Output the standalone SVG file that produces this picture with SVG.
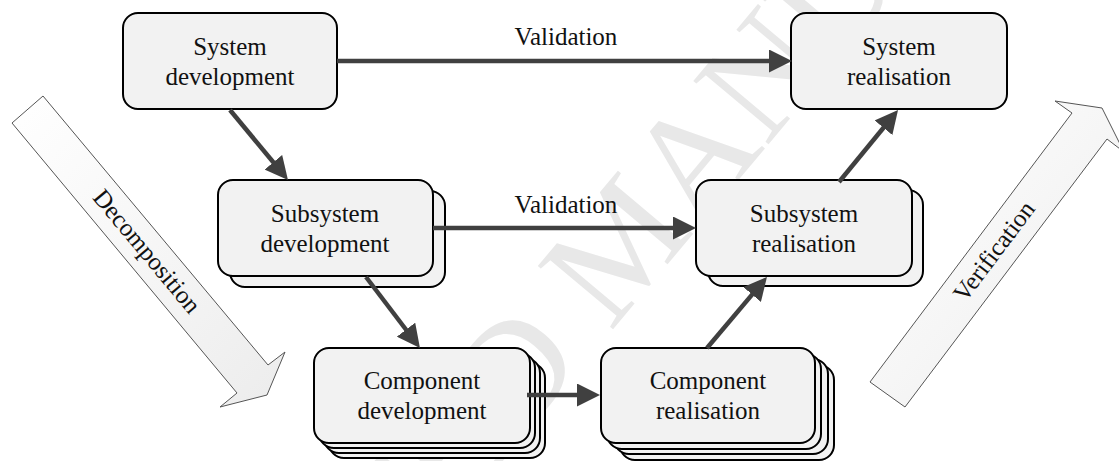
<svg xmlns="http://www.w3.org/2000/svg" width="1119" height="461" viewBox="0 0 1119 461">
<style>
.box{fill:#f2f2f2;stroke:#000;stroke-width:2}
.lbl{font-family:"Liberation Serif","Times New Roman",serif;font-size:25px;fill:#111;text-anchor:middle}
.conn{stroke:#404040;stroke-width:4.5;fill:none;marker-end:url(#ah)}
.blk{stroke:#555;stroke-width:1;fill:url(#bg)}
.wm{font-family:"Liberation Serif","Times New Roman",serif;font-size:150px;fill:#e8e8e8}
</style>
<defs>
<marker id="ah" markerUnits="userSpaceOnUse" markerWidth="23" markerHeight="23" viewBox="0 0 23 23" refX="13" refY="11.5" orient="auto">
<path d="M0,0 L23,11.5 L0,23 z" fill="#404040"/>
</marker>
<linearGradient id="bg" x1="0" y1="0" x2="1" y2="1">
<stop offset="0" stop-color="#ffffff"/>
<stop offset="0.5" stop-color="#f6f6f6"/>
<stop offset="1" stop-color="#ececec"/>
</linearGradient>
</defs>
<rect width="1119" height="461" fill="#fff"/>
<g id="watermark">
<text class="wm" transform="translate(88,955) rotate(-50)">ACCEPTED MANUSCRIPT</text>
</g>
<g id="decomposition">
<path class="blk" d="M12,123 L43,96 L268,365 L285,352 L267,395 L220,407 L237,393 Z"/>
<text class="lbl" transform="translate(146,252) rotate(50.1)" dy="7">Decomposition</text>
</g>
<g id="verification">
<path class="blk" d="M870,382 L1072,113 L1055,101 L1102,108 L1124,152 L1107,139 L905,407 Z"/>
<text class="lbl" transform="translate(995,252) rotate(-53)" dy="7">Verification</text>
</g>
<g id="system-development">
<rect class="box" x="123" y="13" width="214" height="96" rx="15"/>
<text class="lbl" x="230" y="55">System</text>
<text class="lbl" x="230" y="85">development</text>
</g>
<g id="system-realisation">
<rect class="box" x="791" y="13" width="216" height="96" rx="15"/>
<text class="lbl" x="899" y="55">System</text>
<text class="lbl" x="899" y="85">realisation</text>
</g>
<g id="subsystem-development">
<rect class="box" x="230" y="191" width="215" height="96" rx="15"/>
<rect class="box" x="218" y="180" width="215" height="96" rx="15"/>
<text class="lbl" x="325" y="222">Subsystem</text>
<text class="lbl" x="325" y="252">development</text>
</g>
<g id="subsystem-realisation">
<rect class="box" x="708" y="190" width="215" height="96" rx="15"/>
<rect class="box" x="696" y="180" width="216" height="96" rx="15"/>
<text class="lbl" x="804" y="222">Subsystem</text>
<text class="lbl" x="804" y="252">realisation</text>
</g>
<g id="component-development">
<rect class="box" x="329" y="363" width="216" height="95" rx="15"/>
<rect class="box" x="324" y="358" width="216" height="95" rx="15"/>
<rect class="box" x="319" y="353" width="216" height="95" rx="15"/>
<rect class="box" x="314" y="348" width="216" height="95" rx="15"/>
<text class="lbl" x="422" y="389">Component</text>
<text class="lbl" x="422" y="419">development</text>
</g>
<g id="component-realisation">
<rect class="box" x="620" y="365" width="214" height="95" rx="15"/>
<rect class="box" x="614" y="359" width="214" height="95" rx="15"/>
<rect class="box" x="607" y="354" width="214" height="95" rx="15"/>
<rect class="box" x="601" y="348" width="214" height="95" rx="15"/>
<text class="lbl" x="708" y="389">Component</text>
<text class="lbl" x="708" y="419">realisation</text>
</g>
<g id="connectors">
<line class="conn" x1="337" y1="61" x2="782" y2="61"/>
<text class="lbl" x="566" y="45">Validation</text>
<line class="conn" x1="433" y1="228" x2="686" y2="228"/>
<text class="lbl" x="566" y="213">Validation</text>
<line class="conn" x1="527" y1="395" x2="590" y2="395"/>
<line class="conn" x1="230" y1="110" x2="281.6" y2="172.3"/>
<line class="conn" x1="366" y1="277" x2="413.9" y2="340"/>
<line class="conn" x1="707" y1="348" x2="760.5" y2="284.6"/>
<line class="conn" x1="839" y1="182" x2="891.7" y2="117.7"/>
</g>
</svg>
